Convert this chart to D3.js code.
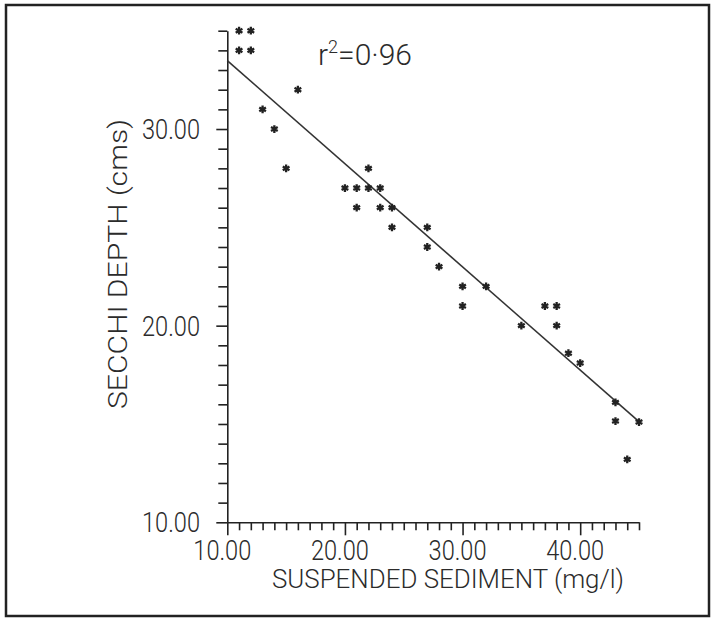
<!DOCTYPE html>
<html>
<head>
<meta charset="utf-8">
<script src="https://cdn.jsdelivr.net/npm/d3@7"></script>
<style>
  body { margin: 0; background: #fff; }
  text { font-family: Roboto, "DejaVu Sans", sans-serif; font-weight: 300; fill: #2b2b2b; }
</style>
</head>
<body>
<div id="chart"></div>
<script>
// values
var sediment = [11, 12, 11, 12, 13, 14, 15, 16, 22, 20, 21, 22, 23, 21, 23, 24, 24, 27, 27, 28, 30, 30, 32, 35, 37, 38, 38, 39, 40, 43, 43, 45, 44];
var secchi   = [35, 35, 34, 34, 31, 30, 28, 32, 28, 27, 27, 27, 27, 26, 26, 26, 25, 25, 24, 23, 22, 21, 22, 20, 21, 21, 20, 18.6, 18.1, 16.1, 15.15, 15.1, 13.2];
var fitX = [10, 45];
var fitY = [33.48, 15.12];
var xTickLabels = ["10.00", "20.00", "30.00", "40.00"];
var yTickLabels = ["10.00", "20.00", "30.00"];

var width = 712, height = 619;

var svg = d3.select("#chart").append("svg")
    .attr("width", width)
    .attr("height", height);

// frame round the figure
svg.append("rect")
    .attr("x", 6).attr("y", 5)
    .attr("width", 703).attr("height", 611)
    .attr("fill", "none")
    .attr("stroke", "#222")
    .attr("stroke-width", 2.5);

var x = d3.scaleLinear().domain([10, 45]).range([227.3, 639]);
var y = d3.scaleLinear().domain([10, 35]).range([522.3, 30.7]);

// x axis, a tick every unit, longer ones every ten
var xAxis = svg.append("g")
    .attr("transform", "translate(0," + y(10) + ")")
    .call(d3.axisBottom(x).tickValues(d3.range(10, 46)).tickSize(8).tickSizeOuter(0).tickFormat(""));
xAxis.selectAll(".tick line")
    .attr("y2", function(d) { return d % 10 === 0 ? 13 : 8; });

var yAxis = svg.append("g")
    .attr("transform", "translate(" + x(10) + ",0)")
    .call(d3.axisLeft(y).tickValues(d3.range(10, 36)).tickSize(9).tickSizeOuter(0).tickFormat(""));
yAxis.selectAll(".tick line")
    .attr("x2", function(d) { return d % 10 === 0 ? -11 : -9; });

svg.selectAll(".domain, .tick line")
    .attr("stroke", "#222")
    .attr("stroke-width", 1.6);

// tick labels (plotter lettering is narrow, so squeeze to width)
svg.append("g").selectAll("text")
    .data(xTickLabels)
    .enter().append("text")
      .attr("x", function(d) { return x(+d) - 5; })
      .attr("y", 560)
      .attr("text-anchor", "middle")
      .attr("textLength", 58)
      .attr("lengthAdjust", "spacingAndGlyphs")
      .style("font-size", "27px")
      .text(function(d) { return d; });

svg.append("g").selectAll("text")
    .data(yTickLabels)
    .enter().append("text")
      .attr("x", 200)
      .attr("y", function(d) { return y(+d) + 10; })
      .attr("text-anchor", "end")
      .attr("textLength", 58)
      .attr("lengthAdjust", "spacingAndGlyphs")
      .style("font-size", "27px")
      .text(function(d) { return d; });

// axis titles
svg.append("text")
    .attr("x", 448)
    .attr("y", 588)
    .attr("text-anchor", "middle")
    .attr("textLength", 352)
    .attr("lengthAdjust", "spacingAndGlyphs")
    .style("font-size", "25px")
    .text("SUSPENDED SEDIMENT (mg/l)");

svg.append("text")
    .attr("transform", "translate(127,264) rotate(-90)")
    .attr("text-anchor", "middle")
    .attr("textLength", 290)
    .attr("lengthAdjust", "spacingAndGlyphs")
    .style("font-size", "25px")
    .text("SECCHI DEPTH (cms)");

// r squared note
var note = svg.append("text")
    .attr("x", 318)
    .attr("y", 65)
    .style("font-size", "30px");
note.append("tspan").text("r");
note.append("tspan").attr("dy", -12).style("font-size", "18px").text("2");
note.append("tspan").attr("dy", 12).text("=0\u00b796");

// fitted line
svg.append("line")
    .attr("x1", x(fitX[0])).attr("y1", y(fitY[0]))
    .attr("x2", x(fitX[1])).attr("y2", y(fitY[1]))
    .attr("stroke", "#333")
    .attr("stroke-width", 1.6);

// data points drawn as asterisks
svg.append("g").selectAll("path")
    .data(sediment)
    .enter().append("path")
      .attr("transform", function(d, i) { return "translate(" + x(d) + "," + y(secchi[i]) + ")"; })
      .attr("d", d3.symbol().type(d3.symbolAsterisk).size(42))
      .attr("fill", "none")
      .attr("stroke", "#222")
      .attr("stroke-width", 2.3);
</script>
</body>
</html>
